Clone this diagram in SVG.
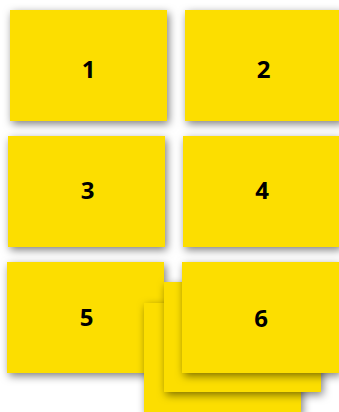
<svg xmlns="http://www.w3.org/2000/svg" width="339" height="412" viewBox="0 0 339 412">
  <defs>
    <filter id="sh" x="-20%" y="-25%" width="140%" height="150%">
      <feDropShadow dx="2" dy="3" stdDeviation="4" flood-color="#000" flood-opacity="0.5"/>
    </filter>
  </defs>
  <style>
    .card { fill: #FCDE00; filter: url(#sh); }
    .lbl { font-family: "Open Sans", "Liberation Sans", sans-serif; font-weight: bold; font-size: 24px; fill: #000; text-anchor: middle; }
  </style>
  <rect width="339" height="412" fill="#fff"/>
  <g id="node1"><rect class="card" x="10" y="10" width="157" height="111"/><text class="lbl" x="88.5" y="78">1</text></g>
  <g id="node2"><rect class="card" x="185" y="10" width="157" height="111"/><text class="lbl" x="263.5" y="78">2</text></g>
  <g id="node3"><rect class="card" x="8" y="136" width="157" height="111"/><text class="lbl" x="87.5" y="199">3</text></g>
  <g id="node4"><rect class="card" x="183" y="136" width="157" height="111"/><text class="lbl" x="262" y="199">4</text></g>
  <g id="node5"><rect class="card" x="7" y="262" width="157" height="111"/><text class="lbl" x="86.5" y="326">5</text></g>
  <g id="stack-back"><rect class="card" x="144" y="303" width="157" height="111"/></g>
  <g id="stack-mid"><rect class="card" x="164" y="282" width="157" height="110"/></g>
  <g id="node6"><rect class="card" x="182" y="262" width="157" height="111"/><text class="lbl" x="261" y="327">6</text></g>
  <g id="connectors"/>
</svg>
